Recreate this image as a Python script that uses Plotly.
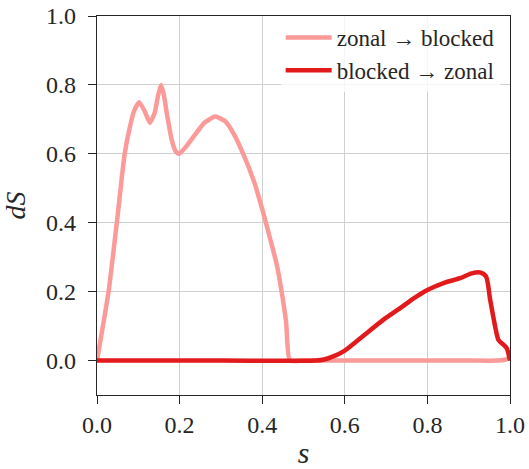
import plotly.graph_objects as go

# zonal -> blocked
s_zb = [0.0, 0.028, 0.048, 0.067, 0.080, 0.090, 0.102, 0.115, 0.128, 0.140, 0.148,
        0.155, 0.162, 0.169, 0.181, 0.190, 0.198, 0.215, 0.237, 0.260, 0.286, 0.310, 0.330,
        0.354, 0.380, 0.400, 0.420, 0.435, 0.447, 0.458, 0.467, 0.50, 0.60, 0.70, 0.80,
        0.90, 0.97, 0.99, 1.0]
v_zb = [0.0, 0.20, 0.40, 0.60, 0.68, 0.725, 0.750, 0.725, 0.690, 0.720, 0.770,
        0.800, 0.770, 0.718, 0.640, 0.608, 0.600, 0.620, 0.655, 0.690, 0.708, 0.695, 0.660,
        0.600, 0.520, 0.440, 0.350, 0.280, 0.200, 0.110, 0.0, 0.0, 0.0, 0.0, 0.0,
        0.0, 0.0, 0.003, 0.008]

# blocked -> zonal
s_bz = [0.0, 0.30, 0.53, 0.550, 0.572, 0.600, 0.640, 0.693, 0.734, 0.766, 0.800,
        0.839, 0.879, 0.907, 0.927, 0.942, 0.952, 0.964, 0.972, 0.984, 0.992, 1.0]
v_bz = [0.0, 0.0, 0.0, 0.003, 0.012, 0.029, 0.067, 0.118, 0.152, 0.180, 0.205,
        0.225, 0.239, 0.253, 0.256, 0.244, 0.176, 0.099, 0.060, 0.046, 0.036, 0.0]

names = ["zonal \u2192 blocked", "blocked \u2192 zonal"]
colors = ["#fb9a99", "#e31a1c"]

FONT = "Liberation Serif"
INK = "#262626"

fig = go.Figure()
fig.add_trace(go.Scatter(x=s_zb, y=v_zb, mode="lines", name=names[0],
                         line=dict(color=colors[0], width=4.5, shape="spline", smoothing=0.5)))
fig.add_trace(go.Scatter(x=s_bz, y=v_bz, mode="lines", name=names[1],
                         line=dict(color=colors[1], width=4.5, shape="spline", smoothing=0.7)))

axis_common = dict(
    showline=True, mirror=True, linecolor=INK, linewidth=1.3,
    showgrid=True, gridcolor="#d0d0d0", gridwidth=1.3, zeroline=False,
    ticks="outside", ticklen=8, tickwidth=1.3, tickcolor=INK,
    tickfont=dict(family=FONT, size=24, color=INK),
    dtick=0.2, tickformat=".1f", automargin=False, ticklabeloverflow="allow",
)

fig.update_layout(
    width=529, height=469,
    margin=dict(l=97, r=19, t=16, b=74, autoexpand=False),
    plot_bgcolor="white", paper_bgcolor="white",
    font=dict(family=FONT, color=INK),
    xaxis=dict(range=[0, 1], tick0=0,
               title=dict(text="<i>s</i>", font=dict(family=FONT, size=30, color=INK), standoff=18),
               ticklabelstandoff=0, **axis_common),
    yaxis=dict(range=[-0.1, 1.0], tick0=0,
               title=dict(text="<i>dS</i>", font=dict(family=FONT, size=28, color=INK), standoff=26),
               ticklabelstandoff=7, **axis_common),
    legend=dict(x=0.975, y=1, xanchor="right", yanchor="top",
                bgcolor="rgba(255,255,255,0.8)", borderwidth=0, itemwidth=46,
                font=dict(family=FONT, size=23, color=INK), tracegroupgap=0),
    showlegend=True,
)

# remove the default page margin so the figure fills the window exactly
fig.write_html("out.html", config={"displayModeBar": False},
               post_script="document.body.style.margin='0px';")
